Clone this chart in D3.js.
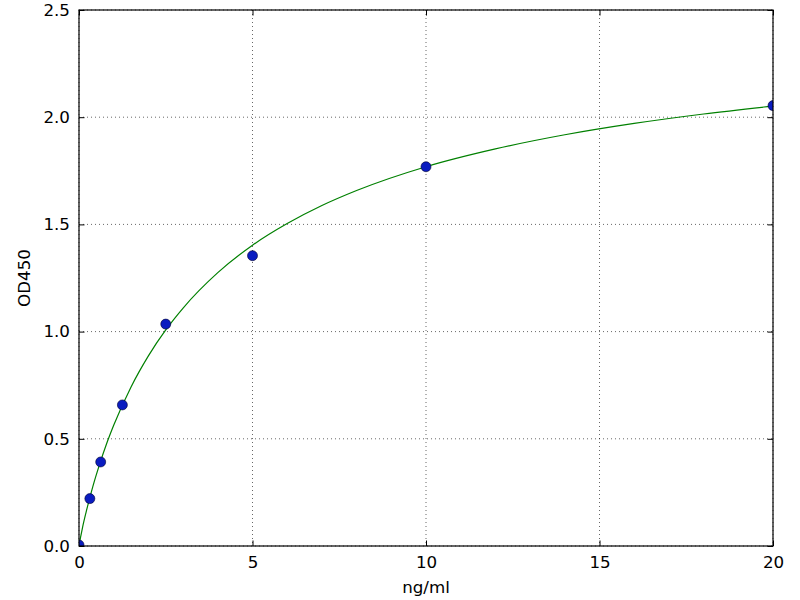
<!DOCTYPE html>
<html>
<head>
<meta charset="utf-8">
<script src="https://cdn.jsdelivr.net/npm/d3@7"></script>
<style>
  html, body { margin: 0; padding: 0; background: #fff; }
  svg text { font-family: "DejaVu Sans", sans-serif; }
</style>
</head>
<body>
<svg id="chart" width="800" height="600"></svg>
<script>
// Standard points (concentration ng/ml, OD450)
const concentrations = [0, 0.3125, 0.625, 1.25, 2.5, 5, 10, 20];
const odValues = [0.005, 0.221, 0.392, 0.658, 1.035, 1.354, 1.769, 2.054];

const curveX = [0, 0.02, 0.05, 0.1, 0.2, 0.4, 0.6, 0.8, 1, 1.5, 2, 2.5, 3, 4, 5, 6, 7, 8, 10, 12, 14, 16, 18, 20];
const curveY = [0, 0.020, 0.045, 0.085, 0.155, 0.278, 0.384, 0.479, 0.563, 0.742, 0.887, 1.008, 1.110, 1.275, 1.403, 1.504, 1.588, 1.658, 1.769, 1.852, 1.918, 1.971, 2.015, 2.052];

const xTicks = [0, 5, 10, 15, 20];
const yTicks = [0.0, 0.5, 1.0, 1.5, 2.0, 2.5];
const xLabel = "ng/ml";
const yLabel = "OD450";

const margin = { top: 10, right: 27, bottom: 54, left: 79 };
const W = 800, H = 600;
const iw = W - margin.left - margin.right;
const ih = H - margin.top - margin.bottom;

const svg = d3.select("#chart");
const g = svg.append("g").attr("transform", `translate(${margin.left},${margin.top})`);

const x = d3.scaleLinear().domain([0, 20]).range([0, iw]);
const y = d3.scaleLinear().domain([0, 2.5]).range([ih, 0]);

svg.append("defs").append("clipPath").attr("id", "clip")
  .append("rect").attr("x", 0).attr("y", 0).attr("width", iw).attr("height", ih);

// Grid
const grid = g.append("g");
grid.selectAll("line.gx").data(xTicks).enter().append("line")
  .attr("x1", d => x(d)).attr("x2", d => x(d)).attr("y1", 0).attr("y2", ih)
  .attr("stroke", "#000").attr("stroke-width", 0.6).attr("stroke-dasharray", "1,3");
grid.selectAll("line.gy").data(yTicks).enter().append("line")
  .attr("x1", 0).attr("x2", iw).attr("y1", d => y(d)).attr("y2", d => y(d))
  .attr("stroke", "#000").attr("stroke-width", 0.6).attr("stroke-dasharray", "1,3");

// Axes (ticks inward, on all sides)
const fontSize = "16.7px";
const tickLen = 5.5;
const xAxisB = d3.axisBottom(x).tickValues(xTicks).tickFormat(d3.format("d")).tickSizeInner(-tickLen).tickSizeOuter(0).tickPadding(10);
const xAxisT = d3.axisTop(x).tickValues(xTicks).tickFormat("").tickSizeInner(-tickLen).tickSizeOuter(0);
const yAxisL = d3.axisLeft(y).tickValues(yTicks).tickFormat(d3.format(".1f")).tickSizeInner(-tickLen).tickSizeOuter(0).tickPadding(9);
const yAxisR = d3.axisRight(y).tickValues(yTicks).tickFormat("").tickSizeInner(-tickLen).tickSizeOuter(0);

function styleAxis(sel) {
  sel.select(".domain").remove();
  sel.selectAll("line").attr("stroke", "#000").attr("stroke-width", 1);
  sel.selectAll("text").attr("fill", "#000").style("font-size", fontSize).style("font-family", "'DejaVu Sans', sans-serif");
}
g.append("g").attr("transform", `translate(0,${ih})`).call(xAxisB).call(styleAxis);
g.append("g").call(xAxisT).call(styleAxis);
g.append("g").call(yAxisL).call(styleAxis);
g.append("g").attr("transform", `translate(${iw},0)`).call(yAxisR).call(styleAxis);

// Curve
const curveData = curveX.map((d, i) => [d, curveY[i]]);
const line = d3.line().x(d => x(d[0])).y(d => y(d[1])).curve(d3.curveMonotoneX);
const plot = g.append("g").attr("clip-path", "url(#clip)");
plot.append("path").datum(curveData).attr("d", line)
  .attr("fill", "none").attr("stroke", "#008000").attr("stroke-width", 1.2);

// Points
const pts = concentrations.map((d, i) => [d, odValues[i]]);
plot.selectAll("circle").data(pts).enter().append("circle")
  .attr("cx", d => x(d[0])).attr("cy", d => y(d[1])).attr("r", 5)
  .attr("fill", "#0a1cc0").attr("stroke", "#000030").attr("stroke-width", 0.6);

// Frame
g.append("rect").attr("x", 0).attr("y", 0).attr("width", iw).attr("height", ih)
  .attr("fill", "none").attr("stroke", "#000").attr("stroke-width", 1.2);

// Labels
svg.append("text").attr("x", margin.left + iw / 2).attr("y", 593)
  .attr("text-anchor", "middle").style("font-size", fontSize).text(xLabel);
svg.append("text").attr("transform", `translate(30,${margin.top + ih / 2}) rotate(-90)`)
  .attr("text-anchor", "middle").style("font-size", fontSize).text(yLabel);
</script>
</body>
</html>
